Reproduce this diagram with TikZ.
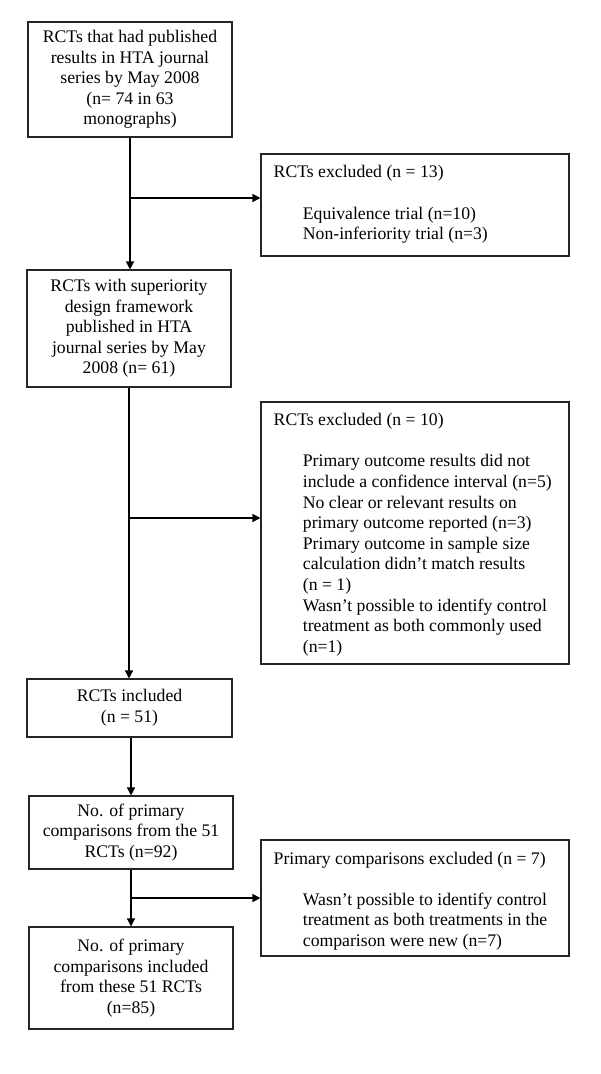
\documentclass[tikz,border=0pt]{standalone}
\usepackage{fontspec}
\setmainfont{Liberation Serif}
\usetikzlibrary{arrows.meta}
\newcommand\diagfont{\fontsize{17.7}{20.6}\selectfont}
\begin{document}
\begin{tikzpicture}[x=1pt,y=-1pt,
  box/.style={draw=black!85, line width=1.1pt, inner sep=0pt, align=center, font=\diagfont},
  exbox/.style={draw=black!85, line width=1.1pt, inner sep=0pt},
  head/.style={anchor=base west, inner sep=0pt, font=\diagfont},
  items/.style={anchor=north west, inner sep=0pt, align=left, font=\diagfont},
  arr/.style={line width=1.3pt, -{Triangle[length=8pt,width=8pt]}},
  ln/.style={line width=1.3pt}]
\useasboundingbox (0,0) rectangle (600,1074);
\fill[white] (0,0) rectangle (600,1074);
% main column
\node[box, minimum width=204pt, minimum height=115pt] (b1) at (130,79.5)
  {RCTs that had published\\results in HTA journal\\series by May 2008\\(n= 74 in 63\\monographs)};
\node[box, minimum width=204pt, minimum height=117pt] (b2) at (129,328.5)
  {RCTs with superiority\\design framework\\published in HTA\\journal series by May\\2008 (n= 61)};
\node[box, minimum width=205pt, minimum height=58pt] (b3) at (129.5,708)
  {RCTs included\\(n = 51)};
\node[box, minimum width=204pt, minimum height=73pt] (b4) at (131,832.5)
  {No. of primary\\comparisons from the 51\\RCTs (n=92)};
\node[box, minimum width=204pt, minimum height=102pt] (b5) at (131,978)
  {No. of primary\\comparisons included\\from these 51 RCTs\\(n=85)};
% exclusion boxes
\node[exbox, minimum width=308pt, minimum height=102pt] (e1) at (415,205) {};
\node[head] (e1h) at (273.5,177) {RCTs excluded (n = 13)};
\node[items] (e1t) at (302.7,204.6) {\strut Equivalence trial (n=10)\\Non-inferiority trial (n=3)};
\node[exbox, minimum width=308pt, minimum height=262pt] (e2) at (415,533) {};
\node[head] (e2h) at (273.5,425) {RCTs excluded (n = 10)};
\node[items] (e2t) at (302.7,452.3) {\strut Primary outcome results did not\\include a confidence interval (n=5)\\No clear or relevant results on\\primary outcome reported (n=3)\\Primary outcome in sample size\\calculation didn’t match results\\(n = 1)\\Wasn’t possible to identify control\\treatment as both commonly used\\(n=1)};
\node[exbox, minimum width=308pt, minimum height=116pt] (e3) at (415,898) {};
\node[head] (e3h) at (273.5,864) {Primary comparisons excluded (n = 7)};
\node[items] (e3t) at (302.7,890.6) {\strut Wasn’t possible to identify control\\treatment as both treatments in the\\comparison were new (n=7)};
% connectors
\draw[arr] (b1.south) -- (b1.south |- b2.north);
\coordinate (j1) at (130,198);
\draw[arr] (j1) -- (j1 -| e1.west);
\draw[arr] (b2.south) -- (b2.south |- b3.north);
\coordinate (j2) at (129,518);
\draw[arr] (j2) -- (j2 -| e2.west);
\draw[arr] (b4.north |- b3.south) -- (b4.north);
\draw[arr] (b4.south) -- (b5.north);
\coordinate (j3) at (131,898);
\draw[arr] (j3) -- (j3 -| e3.west);
\end{tikzpicture}
\end{document}
